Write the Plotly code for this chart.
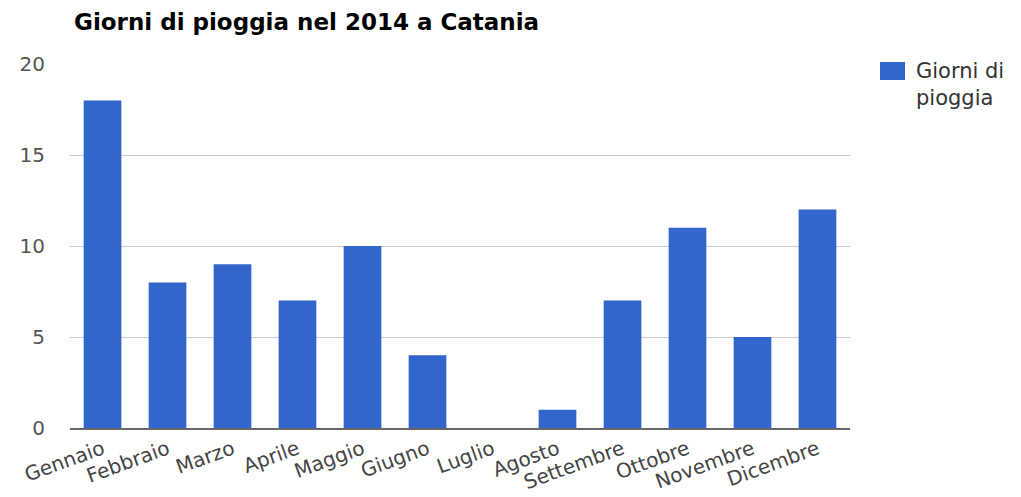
import plotly.graph_objects as go

mesi = ["Gennaio", "Febbraio", "Marzo", "Aprile", "Maggio", "Giugno",
        "Luglio", "Agosto", "Settembre", "Ottobre", "Novembre", "Dicembre"]
giorni = [18, 8, 9, 7, 10, 4, 0, 1, 7, 11, 5, 12]
y_ticks = [0, 5, 10, 15, 20]
serie_nome = "Giorni di pioggia"
titolo = "Giorni di pioggia nel 2014 a Catania"

BLU = "#3366cc"
FONT = "DejaVu Sans, Verdana, sans-serif"

fig = go.Figure()
fig.add_trace(go.Bar(
    x=mesi, y=giorni, name=serie_nome,
    marker=dict(color=BLU, line=dict(width=0)),
    width=0.58, showlegend=False,
))

# legend drawn as a swatch plus two-line label
fig.add_shape(type="rect", xref="paper", yref="paper",
              x0=(880 - 70) / 780, x1=(905 - 70) / 780,
              y0=(428 - 80) / 364, y1=(428 - 62) / 364,
              fillcolor=BLU, line=dict(width=0))
fig.add_annotation(xref="paper", yref="paper",
                   x=(914 - 70) / 780, y=(428 - 57) / 364,
                   xanchor="left", yanchor="top", align="left",
                   text="Giorni di<br>pioggia", showarrow=False,
                   font=dict(family=FONT, size=21, color="#333"))

fig.update_layout(
    width=1021, height=497,
    margin=dict(l=70, r=171, t=64, b=69),
    paper_bgcolor="white", plot_bgcolor="white",
    title=dict(text="<b>" + titolo + "</b>", x=74 / 1021, xanchor="left",
               y=1 - 22 / 497, yanchor="middle",
               font=dict(family=FONT, size=23, color="#000")),
    font=dict(family=FONT),
)
fig.update_yaxes(range=[0, 20], tickvals=y_ticks, showgrid=True,
                 gridcolor="#cccccc", gridwidth=1, zeroline=False,
                 showline=False, ticks="", ticklen=0, automargin=False,
                 tickfont=dict(family=FONT, size=20, color="#555"),
                 ticklabelstandoff=24)
fig.update_xaxes(showline=True, linecolor="#666", linewidth=2,
                 tickangle=-20, ticks="", showgrid=False, automargin=False,
                 tickfont=dict(family=FONT, size=20, color="#444"))

fig.write_html("out.html")
